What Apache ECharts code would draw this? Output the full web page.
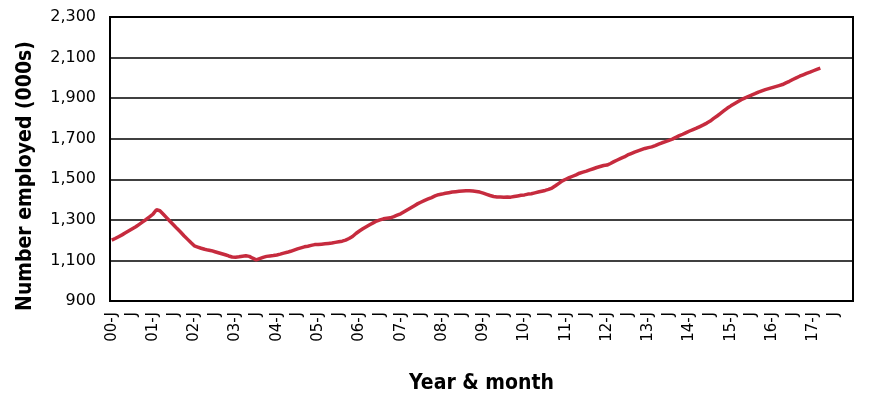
<!DOCTYPE html>
<html>
<head>
<meta charset="utf-8">
<script src="https://cdn.jsdelivr.net/npm/echarts@6/dist/echarts.min.js"></script>
<style>
  html, body { margin: 0; padding: 0; background: #fff; }
  #chart { width: 870px; height: 409px; }
</style>
</head>
<body>
<div id="chart"></div>
<script>
// years on the axis, Jan 2000 .. Dec 2017 (data stops in early 2017)
var years = ['00','01','02','03','04','05','06','07','08','09','10','11','12','13','14','15','16','17'];

// employment, thousands, monthly from Jan 2000
var y2000 = [1200,1208,1217,1226,1236,1246,1256,1266,1278,1290,1302,1315];
var y2001 = [1328,1350,1345,1328,1310,1292,1275,1257,1240,1222,1205,1188];
var y2002 = [1172,1166,1160,1155,1151,1148,1143,1138,1133,1128,1122,1117];
var y2003 = [1116,1118,1121,1123,1120,1111,1103,1109,1115,1120,1122,1124];
var y2004 = [1127,1131,1136,1140,1145,1151,1157,1162,1167,1170,1174,1178];
var y2005 = [1178,1180,1182,1184,1186,1189,1192,1195,1200,1208,1218,1233];
var y2006 = [1245,1256,1266,1276,1285,1294,1300,1305,1308,1310,1316,1323];
var y2007 = [1330,1340,1350,1360,1370,1380,1388,1396,1403,1410,1418,1424];
var y2008 = [1427,1431,1434,1437,1439,1441,1442,1443,1443,1442,1440,1437];
var y2009 = [1432,1426,1420,1415,1413,1413,1412,1413,1412,1415,1418,1421];
var y2010 = [1423,1427,1429,1433,1437,1441,1445,1450,1457,1468,1480,1492];
var y2011 = [1500,1508,1515,1522,1530,1535,1540,1546,1552,1558,1563,1568];
var y2012 = [1570,1578,1587,1595,1603,1610,1620,1627,1634,1640,1646,1652];
var y2013 = [1656,1660,1666,1673,1680,1686,1692,1698,1707,1715,1722,1730];
var y2014 = [1738,1745,1752,1760,1768,1777,1787,1800,1812,1825,1838,1851];
var y2015 = [1862,1872,1882,1892,1900,1908,1915,1922,1930,1936,1942,1947];
var y2016 = [1952,1957,1962,1967,1975,1983,1992,2000,2008,2015,2022,2028];
var y2017 = [2035,2042,2048];

var yTicks = [900, 1100, 1300, 1500, 1700, 1900, 2100, 2300];

var categories = [];
years.forEach(function (yy) {
    for (var m = 0; m < 12; m++) categories.push(yy + '-' + (m + 1));
});

var employed = [].concat(y2000, y2001, y2002, y2003, y2004, y2005, y2006, y2007, y2008,
    y2009, y2010, y2011, y2012, y2013, y2014, y2015, y2016, y2017);

var titleFont = { fontFamily: 'DejaVu Sans Condensed', fontWeight: 'bold', fontSize: 21, color: '#000' };

var myChart = echarts.init(document.getElementById('chart'));
var option = {
    animation: false,
    grid: {
        left: 110, right: 17, top: 17, bottom: 108,
        show: true, borderColor: '#000', borderWidth: 2
    },
    xAxis: {
        type: 'category',
        data: categories,
        boundaryGap: true,
        name: 'Year & month',
        nameLocation: 'middle',
        nameGap: 72,
        nameTextStyle: titleFont,
        axisLine: { lineStyle: { color: '#000', width: 2 } },
        axisTick: { show: false },
        axisLabel: {
            interval: 5,
            rotate: 90,
            margin: 11,
            fontFamily: 'DejaVu Sans',
            fontSize: 15,
            color: '#000',
            formatter: function (v) {
                var p = v.split('-');
                return p[1] == '1' ? p[0] + '-J' : 'J';
            }
        },
        splitLine: { show: false }
    },
    yAxis: {
        type: 'value',
        min: yTicks[0],
        max: yTicks[yTicks.length - 1],
        interval: 200,
        name: 'Number employed (000s)',
        nameLocation: 'middle',
        nameRotate: 90,
        nameGap: 74,
        nameTextStyle: Object.assign({ padding: [0, 34, 0, 0] }, titleFont),
        axisLine: { show: true, lineStyle: { color: '#000', width: 2 } },
        axisTick: { show: false },
        axisLabel: {
            margin: 14,
            fontFamily: 'DejaVu Sans',
            fontSize: 16,
            color: '#000',
            formatter: function (v) { return v.toLocaleString('en-US'); }
        },
        splitLine: { lineStyle: { color: '#000', width: 1.5 } }
    },
    series: [{
        name: 'Employed',
        type: 'line',
        data: employed,
        showSymbol: false,
        lineStyle: { color: '#C62B3E', width: 3.5 },
        itemStyle: { color: '#C62B3E' }
    }]
};
myChart.setOption(option);
</script>
</body>
</html>
